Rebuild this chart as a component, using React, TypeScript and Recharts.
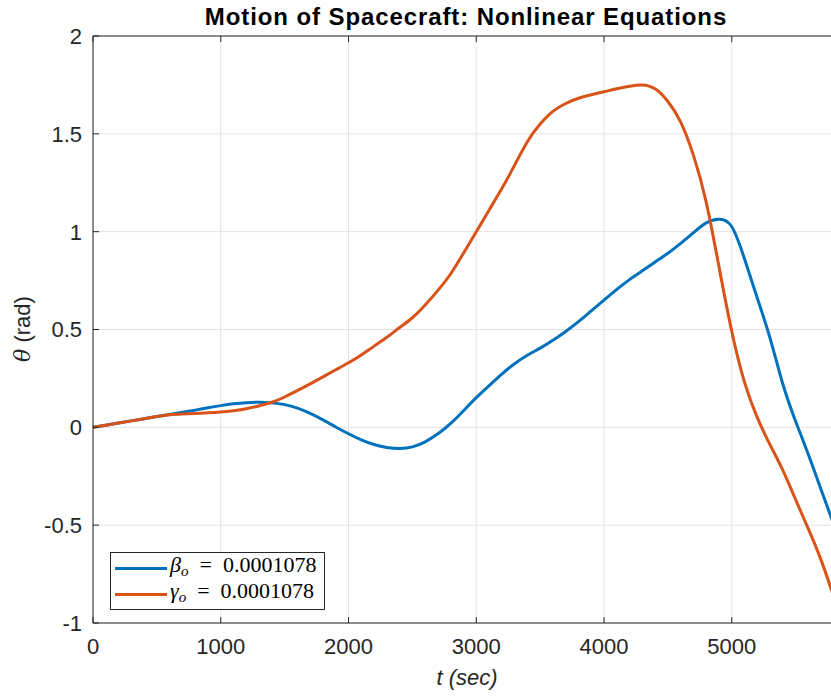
import * as React from "react";
import { LineChart, Line, XAxis, YAxis, CartesianGrid, ReferenceLine } from "recharts";

// time samples (sec)
const times = [
  0, 100, 200, 300, 400, 500, 600, 700, 800, 900, 1000, 1100, 1200, 1300, 1400, 1500, 1600, 1700,
  1800, 1900, 2000, 2100, 2200, 2300, 2400, 2500, 2600, 2700, 2800, 2900, 3000, 3100, 3200, 3300,
  3400, 3500, 3600, 3700, 3800, 3900, 4000, 4100, 4200, 4300, 4400, 4500, 4600, 4700, 4800, 4900,
  5000, 5100, 5200, 5300, 5400, 5500, 5600, 5700, 5800,
];

// theta for beta_o perturbation (rad)
const betaTheta = [
  0, 0.011, 0.022, 0.033, 0.044, 0.055, 0.066, 0.077, 0.088, 0.1, 0.111, 0.12, 0.126, 0.128,
  0.125, 0.116, 0.098, 0.071, 0.038, 0.002, -0.033, -0.064, -0.088, -0.103, -0.108, -0.1, -0.074,
  -0.033, 0.02, 0.085, 0.152, 0.213, 0.272, 0.325, 0.368, 0.405, 0.445, 0.49, 0.54, 0.595, 0.65,
  0.705, 0.755, 0.8, 0.845, 0.89, 0.94, 0.995, 1.045, 1.063, 1.025, 0.86, 0.66, 0.455, 0.22, 0.03,
  -0.14, -0.32, -0.5,
];

// theta for gamma_o perturbation (rad)
const gammaTheta = [
  0, 0.011, 0.022, 0.033, 0.044, 0.055, 0.064, 0.068, 0.071, 0.074, 0.078, 0.085, 0.095, 0.11,
  0.128, 0.155, 0.188, 0.222, 0.258, 0.294, 0.33, 0.37, 0.415, 0.46, 0.51, 0.56, 0.625, 0.7, 0.785,
  0.89, 1.0, 1.11, 1.22, 1.34, 1.46, 1.55, 1.615, 1.655, 1.682, 1.7, 1.715, 1.73, 1.743, 1.75, 1.73,
  1.665, 1.56, 1.39, 1.15, 0.82, 0.49, 0.23, 0.05, -0.09, -0.22, -0.37, -0.52, -0.68, -0.87,
];

const xTicks = [0, 1000, 2000, 3000, 4000, 5000];
const yTicks = [-1, -0.5, 0, 0.5, 1, 1.5, 2];

const data = times.map((t, i) => ({ t, beta: betaTheta[i], gamma: gammaTheta[i] }));

const BLUE = "#0072BD";
const ORANGE = "#D95319";
const AXIS = "#262626";
const FONT = "'Liberation Sans', Arial, Helvetica, sans-serif";

const PLOT_TOP = 36;
const PLOT_BOTTOM = 623;
const PLOT_LEFT = 93;

function XTick(props: any) {
  const { x, y, payload } = props;
  return (
    <g>
      <line x1={x} x2={x} y1={PLOT_BOTTOM} y2={PLOT_BOTTOM - 6} stroke={AXIS} />
      <line x1={x} x2={x} y1={PLOT_TOP} y2={PLOT_TOP + 6} stroke={AXIS} />
      <text x={x} y={y} dy="0.71em" textAnchor="middle" fill={AXIS} fontSize={22} fontFamily={FONT}>
        {payload.value}
      </text>
    </g>
  );
}

function YTick(props: any) {
  const { x, y, payload } = props;
  return (
    <g>
      <line x1={PLOT_LEFT} x2={PLOT_LEFT + 6} y1={y} y2={y} stroke={AXIS} />
      <text x={x} y={y} dy="0.36em" textAnchor="end" fill={AXIS} fontSize={22} fontFamily={FONT}>
        {payload.value}
      </text>
    </g>
  );
}

const XLabel = () => (
  <text x={467} y={677} textAnchor="middle" dominantBaseline="central" fill={AXIS} fontSize={22} fontFamily={FONT} fontStyle="italic">
    t (sec)
  </text>
);

const YLabel = () => (
  <text x={22} y={329} transform="rotate(-90, 22, 329)" textAnchor="middle" dominantBaseline="central" fill={AXIS} fontSize={22} fontFamily={FONT}>
    <tspan fontStyle="italic" fontFamily="'DejaVu Serif', serif">θ</tspan> (rad)
  </text>
);

function LegendRow({ color, symbol }: { color: string; symbol: string }) {
  return (
    <div style={{ display: "flex", alignItems: "center", height: 26 }}>
      <div style={{ width: 52, height: 3, background: color, marginRight: 3 }} />
      <span style={{ fontFamily: "'Liberation Serif', 'DejaVu Serif', serif", fontSize: 22, color: "#000", whiteSpace: "nowrap", lineHeight: "26px" }}>
        <i>{symbol}</i>
        <sub style={{ fontSize: 15, fontStyle: "italic", verticalAlign: "-4px" }}>o</sub>
        {"\u00a0\u00a0=\u00a0\u00a00.0001078"}
      </span>
    </div>
  );
}

export default function App() {
  return (
    <div style={{ position: "absolute", left: 0, top: 0, width: 831, height: 698, overflow: "hidden", background: "#fff" }}>
      <div
        style={{
          position: "absolute",
          left: 466,
          top: 3,
          transform: "translateX(-50%)",
          whiteSpace: "nowrap",
          fontFamily: FONT,
          fontWeight: "bold",
          fontSize: 24,
          letterSpacing: 0.9,
          color: "#000",
        }}
      >
        Motion of Spacecraft: Nonlinear Equations
      </div>
      <LineChart width={834} height={698} data={data} margin={{ top: PLOT_TOP, right: 0, left: 0, bottom: 0 }}>
        <CartesianGrid stroke="#e3e3e3" vertical horizontal />
        <XAxis
          dataKey="t"
          type="number"
          domain={[0, 5800]}
          ticks={xTicks}
          height={75}
          stroke={AXIS}
          tickLine={false}
          tickSize={0}
          tickMargin={15}
          tick={<XTick />}
          label={{ value: "t (sec)", content: XLabel }}
        />
        <YAxis
          type="number"
          domain={[-1, 2]}
          ticks={yTicks}
          width={PLOT_LEFT}
          stroke={AXIS}
          tickLine={false}
          tickSize={0}
          tickMargin={11}
          tick={<YTick />}
          allowDataOverflow
          label={{ value: "θ (rad)", content: YLabel }}
        />
        <ReferenceLine y={2} stroke={AXIS} />
        <Line type="natural" dataKey="beta" stroke={BLUE} strokeWidth={3} dot={false} isAnimationActive={false} />
        <Line type="natural" dataKey="gamma" stroke={ORANGE} strokeWidth={3} dot={false} isAnimationActive={false} />
      </LineChart>
      <div
        style={{
          position: "absolute",
          left: 110,
          top: 552,
          width: 215,
          height: 58,
          border: `1px solid ${AXIS}`,
          background: "#fff",
          padding: "2px 0 0 4px",
          boxSizing: "border-box",
        }}
      >
        <LegendRow color={BLUE} symbol="β" />
        <LegendRow color={ORANGE} symbol="γ" />
      </div>
    </div>
  );
}
